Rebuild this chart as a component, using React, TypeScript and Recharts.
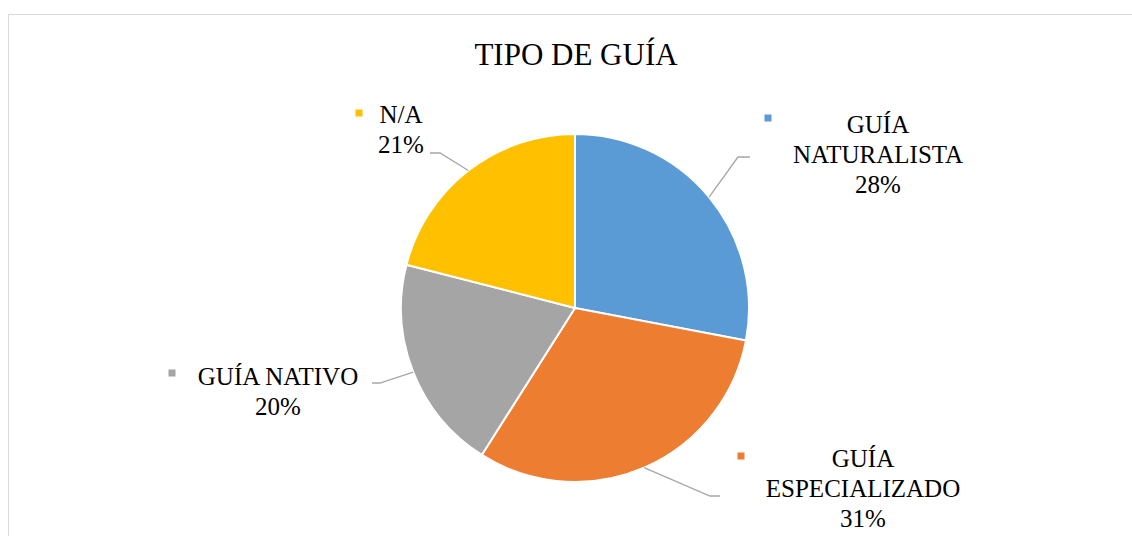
import React from 'react';
import { PieChart, Pie, Cell } from 'recharts';

const categories = ['GUÍA NATURALISTA', 'GUÍA ESPECIALIZADO', 'GUÍA NATIVO', 'N/A'];
const values = [28, 31, 20, 21];
const colors = ['#5B9BD5', '#ED7D31', '#A5A5A5', '#FFC000'];
// label lines (text split as in the original)
const labelLines = [['GUÍA', 'NATURALISTA'], ['GUÍA', 'ESPECIALIZADO'], ['GUÍA NATIVO'], ['N/A']];

// label layout, offsets from pie centre: text centre x, first baseline, marker, leader elbow and end
const labelLayout = [
  { tx: 303, ty: -175, mx: 193, my: -190, ex: 163, ey: -151, hx: 175 },
  { tx: 288, ty: 159, mx: 166, my: 148, ex: 135, ey: 188, hx: 145 },
  { tx: -297, ty: 77, mx: -403, my: 65, ex: -195, ey: 75, hx: -203 },
  { tx: -174, ty: -185, mx: -216, my: -195, ex: -135, ey: -155, hx: -145 },
];

const data = categories.map((name, i) => ({ name, value: values[i] }));

const FONT = "'Liberation Serif', Tinos, 'DejaVu Serif', 'Times New Roman', serif";
const RAD = Math.PI / 180;

const renderLabel = (props: any) => {
  const { cx, cy, midAngle, outerRadius, index, percent } = props;
  const l = labelLayout[index];
  const px = cx + outerRadius * Math.cos(-midAngle * RAD);
  const py = cy + outerRadius * Math.sin(-midAngle * RAD);
  const lines = [...labelLines[index], `${Math.round(percent * 100)}%`];
  return (
    <g>
      <polyline
        points={`${px},${py} ${cx + l.ex},${cy + l.ey} ${cx + l.hx},${cy + l.ey}`}
        fill="none"
        stroke="#A6A6A6"
        strokeWidth={1.3}
      />
      <rect x={cx + l.mx - 3.5} y={cy + l.my - 3.5} width={7} height={7} fill={colors[index]} />
      <text textAnchor="middle" style={{ fontFamily: FONT, fontSize: 25 }} fill="#000">
        {lines.map((t, i) => (
          <tspan key={i} x={cx + l.tx} y={cy + l.ty + i * 30}>
            {t}
          </tspan>
        ))}
      </text>
    </g>
  );
};

export default function App() {
  return (
    <div style={{ position: 'fixed', left: 0, top: 0, width: 1132, height: 536, overflow: 'hidden', background: '#fff' }}>
      <div
        style={{
          position: 'absolute',
          left: 8,
          top: 14,
          width: 1200,
          height: 600,
          border: '1.5px solid #D9D9D9',
        }}
      />
      <div
        style={{
          position: 'absolute',
          left: 0,
          top: 39,
          width: 1152,
          textAlign: 'center',
          fontFamily: FONT,
          fontSize: 31,
          lineHeight: '31px',
          color: '#000',
        }}
      >
        TIPO DE GUÍA
      </div>
      <div style={{ position: 'absolute', left: 0, top: 0 }}>
        <PieChart width={1132} height={536} margin={{ top: 0, right: 0, bottom: 0, left: 0 }}>
          <Pie
            data={data}
            dataKey="value"
            nameKey="name"
            cx={575}
            cy={308}
            outerRadius={174}
            startAngle={90}
            endAngle={-270}
            stroke="#fff"
            strokeWidth={2}
            label={renderLabel}
            labelLine={false}
            isAnimationActive={false}
          >
            {data.map((d, i) => (
              <Cell key={d.name} fill={colors[i]} />
            ))}
          </Pie>
        </PieChart>
      </div>
    </div>
  );
}
